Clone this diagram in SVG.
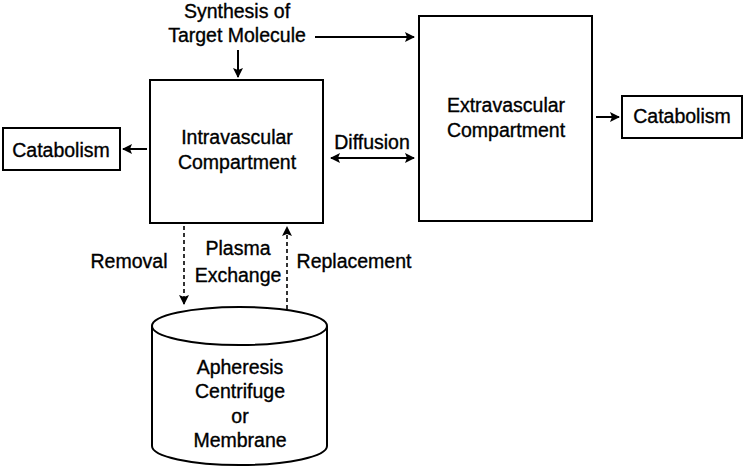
<svg xmlns="http://www.w3.org/2000/svg" width="744" height="475" viewBox="0 0 744 475">
<style>
text{font-family:"Liberation Sans",Arial,sans-serif;font-size:19.5px;fill:#000;stroke:#000;stroke-width:0.35;text-anchor:middle}
.box{fill:#fff;stroke:#000;stroke-width:2}
.ln{fill:none;stroke:#000;stroke-width:2}
.dash{fill:none;stroke:#000;stroke-width:1.6;stroke-dasharray:4 3}
</style>
<defs>
<marker id="ah" viewBox="0 0 10 10" refX="9" refY="5" markerWidth="10" markerHeight="10" markerUnits="userSpaceOnUse" orient="auto-start-reverse">
<path d="M0,0 L10,5 L0,10 L2,5 z" fill="#000"/>
</marker>
</defs>
<rect width="744" height="475" fill="#fff"/>
<g id="synthesis">
<text x="237" y="18">Synthesis of</text>
<text x="237" y="42">Target Molecule</text>
</g>
<g id="intravascular">
<rect class="box" x="150" y="80" width="173" height="143"/>
<text x="237" y="144">Intravascular</text>
<text x="237" y="169">Compartment</text>
</g>
<g id="extravascular">
<rect class="box" x="419" y="16" width="173" height="205"/>
<text x="506" y="112">Extravascular</text>
<text x="506" y="137">Compartment</text>
</g>
<g id="catabolism-left">
<rect class="box" x="3" y="128" width="117" height="42"/>
<text x="61" y="157">Catabolism</text>
</g>
<g id="catabolism-right">
<rect class="box" x="622" y="96" width="120" height="42"/>
<text x="682" y="123">Catabolism</text>
</g>
<g id="apheresis">
<path class="box" d="M152,326 L152,446 A87.5,19 0 0 0 327,446 L327,326"/>
<ellipse class="box" cx="239.5" cy="326" rx="87.5" ry="19"/>
<text x="240" y="374">Apheresis</text>
<text x="240" y="398">Centrifuge</text>
<text x="240" y="423">or</text>
<text x="240" y="447">Membrane</text>
</g>
<g id="connectors">
<line class="ln" x1="238" y1="50" x2="238" y2="77" marker-end="url(#ah)"/>
<line class="ln" x1="315" y1="37" x2="414" y2="37" marker-end="url(#ah)"/>
<line class="ln" x1="147" y1="149" x2="123" y2="149" marker-end="url(#ah)"/>
<line class="ln" x1="331" y1="158" x2="414" y2="158" marker-start="url(#ah)" marker-end="url(#ah)"/>
<line class="ln" x1="596" y1="117" x2="619" y2="117" marker-end="url(#ah)"/>
<line class="dash" x1="184" y1="226" x2="184" y2="304" marker-end="url(#ah)"/>
<line class="dash" x1="287" y1="309" x2="287" y2="227" marker-end="url(#ah)"/>
<text x="372" y="149">Diffusion</text>
<text x="129" y="268">Removal</text>
<text x="238" y="255">Plasma</text>
<text x="238" y="282">Exchange</text>
<text x="354" y="268">Replacement</text>
</g>
</svg>
